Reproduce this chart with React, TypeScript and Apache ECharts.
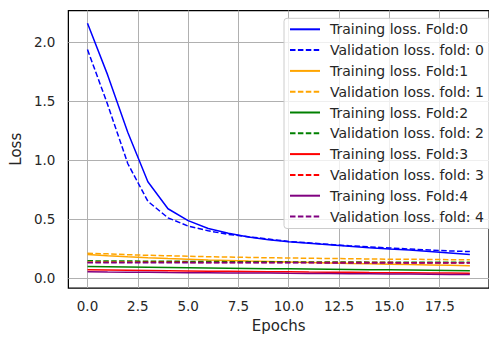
import React, { useEffect, useRef } from "react";
import * as echarts from "echarts";

const epochs = [0, 1, 2, 3, 4, 5, 6, 7, 8, 9, 10, 11, 12, 13, 14, 15, 16, 17, 18, 19];

const trainFold0 = [2.157, 1.72, 1.235, 0.815, 0.587, 0.486, 0.42, 0.38, 0.347, 0.325, 0.307, 0.294, 0.282, 0.27, 0.257, 0.247, 0.238, 0.226, 0.213, 0.2];
const valFold0 = [1.934, 1.47, 0.97, 0.65, 0.51, 0.44, 0.4, 0.37, 0.35, 0.33, 0.31, 0.298, 0.285, 0.274, 0.264, 0.255, 0.246, 0.238, 0.23, 0.224];
const trainFold1 = [0.2, 0.19, 0.181, 0.173, 0.166, 0.16, 0.154, 0.149, 0.144, 0.14, 0.136, 0.132, 0.128, 0.124, 0.121, 0.118, 0.114, 0.111, 0.108, 0.105];
const valFold1 = [0.21, 0.205, 0.198, 0.193, 0.189, 0.185, 0.181, 0.178, 0.175, 0.172, 0.17, 0.168, 0.166, 0.164, 0.162, 0.16, 0.159, 0.158, 0.156, 0.155];
const trainFold2 = [0.098, 0.096, 0.094, 0.092, 0.09, 0.088, 0.086, 0.084, 0.082, 0.08, 0.079, 0.077, 0.075, 0.073, 0.071, 0.07, 0.068, 0.066, 0.064, 0.062];
const valFold2 = [0.146, 0.145, 0.144, 0.143, 0.142, 0.141, 0.14, 0.139, 0.139, 0.138, 0.137, 0.137, 0.136, 0.136, 0.135, 0.135, 0.134, 0.134, 0.133, 0.133];
const trainFold3 = [0.07, 0.068, 0.066, 0.064, 0.062, 0.06, 0.058, 0.057, 0.056, 0.054, 0.053, 0.051, 0.05, 0.049, 0.047, 0.046, 0.045, 0.043, 0.042, 0.04];
const valFold3 = [0.134, 0.134, 0.133, 0.133, 0.133, 0.133, 0.132, 0.132, 0.132, 0.132, 0.131, 0.131, 0.131, 0.131, 0.131, 0.131, 0.13, 0.13, 0.13, 0.13];
const trainFold4 = [0.053, 0.051, 0.05, 0.049, 0.047, 0.046, 0.045, 0.044, 0.043, 0.042, 0.04, 0.039, 0.038, 0.037, 0.036, 0.035, 0.034, 0.033, 0.031, 0.03];
const valFold4 = [0.13, 0.13, 0.13, 0.13, 0.13, 0.129, 0.129, 0.129, 0.129, 0.129, 0.129, 0.129, 0.128, 0.128, 0.128, 0.128, 0.128, 0.128, 0.128, 0.128];

const seriesNames = [
  "Training loss. Fold:0",
  "Validation loss. fold: 0",
  "Training loss. Fold:1",
  "Validation loss. fold: 1",
  "Training loss. Fold:2",
  "Validation loss. fold: 2",
  "Training loss. Fold:3",
  "Validation loss. fold: 3",
  "Training loss. Fold:4",
  "Validation loss. fold: 4",
];
const seriesValues = [trainFold0, valFold0, trainFold1, valFold1, trainFold2, valFold2, trainFold3, valFold3, trainFold4, valFold4];
const seriesColors = ["#0000ff", "#0000ff", "#ffa500", "#ffa500", "#008000", "#008000", "#ff0000", "#ff0000", "#800080", "#800080"];

const xTicks = [0, 2.5, 5, 7.5, 10, 12.5, 15, 17.5];
const yTicks = [0, 0.5, 1, 1.5, 2];

const FONT = "DejaVu Sans";
const TEXT = "#262626";

export default function App() {
  const ref = useRef<HTMLDivElement>(null);
  useEffect(() => {
    if (!ref.current) return;
    const chart = echarts.init(ref.current, undefined, { renderer: "svg" });
    const series = seriesNames.map((name, i) => ({
      name,
      type: "line",
      data: epochs.map((e, j) => [e, seriesValues[i][j]]),
      symbol: "none",
      showSymbol: false,
      color: seriesColors[i],
      lineStyle: {
        color: seriesColors[i],
        width: 1.5,
        type: i % 2 === 1 ? [5.5, 2.4] : "solid",
      },
      z: 2 + i,
    }));
    chart.setOption({
      animation: false,
      backgroundColor: "#ffffff",
      textStyle: { fontFamily: FONT },
      grid: {
        show: true,
        left: 66.4,
        top: 10.5,
        width: 432,
        height: 280.2,
        borderColor: "#000000",
        borderWidth: 1.25,
        backgroundColor: "#ffffff",
        containLabel: false,
      },
      xAxis: {
        type: "value",
        min: -0.95,
        max: 19.95,
        name: "Epochs",
        nameLocation: "middle",
        nameGap: 30,
        nameTextStyle: { fontSize: 15, color: TEXT, fontFamily: FONT },
        axisLine: { show: false },
        axisTick: { show: false, customValues: xTicks },
        axisLabel: {
          customValues: xTicks,
          formatter: (v: number) => v.toFixed(1),
          fontSize: 13.5,
          color: TEXT,
          fontFamily: FONT,
          margin: 11,
        },
        splitLine: { show: true, lineStyle: { color: "#b0b0b0", width: 1 } },
      },
      yAxis: {
        type: "value",
        min: -0.084,
        max: 2.265,
        name: "Loss",
        nameLocation: "middle",
        nameGap: 40,
        nameTextStyle: { fontSize: 15, color: TEXT, fontFamily: FONT },
        axisLine: { show: false },
        axisTick: { show: false, customValues: yTicks },
        axisLabel: {
          customValues: yTicks,
          formatter: (v: number) => v.toFixed(1),
          fontSize: 13.5,
          color: TEXT,
          fontFamily: FONT,
          margin: 13,
        },
        splitLine: { show: true, lineStyle: { color: "#b0b0b0", width: 1 } },
      },
      legend: {
        orient: "vertical",
        left: 284,
        top: 18.3,
        padding: [4, 10, 5, 5],
        itemWidth: 30,
        itemHeight: 14,
        itemGap: 6.8,
        itemStyle: { opacity: 0 },
        backgroundColor: "rgba(255,255,255,0.8)",
        borderColor: "#cccccc",
        borderWidth: 1,
        borderRadius: 3,
        textStyle: { fontSize: 14, color: TEXT, fontFamily: FONT, padding: [0, 0, 0, 5] },
        data: seriesNames,
      },
      series,
    });
    return () => chart.dispose();
  }, []);
  return (
    <div
      ref={ref}
      style={{ position: "fixed", left: 0, top: 0, width: 489, height: 338 }}
    />
  );
}
